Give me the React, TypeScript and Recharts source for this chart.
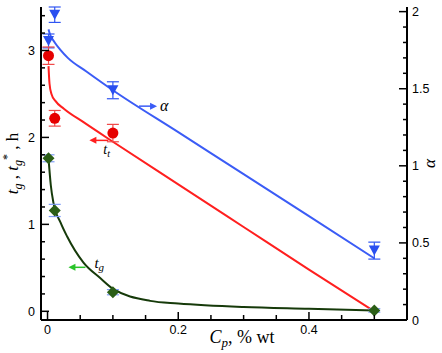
import React from "react";
import { ComposedChart, ErrorBar, Label, Line, ReferenceDot, Scatter, XAxis, YAxis } from "recharts";

// measured points
const alphaX = [0.0015, 0.011, 0.1, 0.5];
const alphaVals = [1.81, 1.98, 1.49, 0.45];
const alphaErr = [0.045, 0.05, 0.055, 0.055];

const ttX = [0.0015, 0.011, 0.1];
const ttVals = [2.94, 2.22, 2.05];
const ttErr = [0.1, 0.09, 0.1];

const tgX = [0.0015, 0.011, 0.1, 0.5];
const tgVals = [1.76, 1.16, 0.22, 0.01];
const tgErr = [0.04, 0.07, 0.03, 0.02];

// fitted curves
const alphaFitX = [0.0015, 0.004, 0.011, 0.02, 0.031, 0.06, 0.1, 0.2, 0.3, 0.4, 0.5];
const alphaFitVals = [1.885, 1.85, 1.8, 1.75, 1.7, 1.61, 1.49, 1.218, 0.946, 0.674, 0.4];

const ttFitX = [0.0015, 0.003, 0.006, 0.012, 0.025, 0.055, 0.1, 0.2, 0.3, 0.4, 0.5];
const ttFitVals = [2.82, 2.62, 2.5, 2.42, 2.33, 2.175, 1.95, 1.46, 0.97, 0.48, 0.0];

const tgFitX = [0.0015, 0.005, 0.009, 0.02, 0.03, 0.055, 0.081, 0.1, 0.157, 0.2, 0.3, 0.4, 0.5];
const tgFitVals = [1.76, 1.45, 1.25, 1.02, 0.86, 0.56, 0.38, 0.26, 0.12, 0.09, 0.05, 0.03, 0.01];

const xTicks = [0, 0.05, 0.1, 0.15, 0.2, 0.25, 0.3, 0.35, 0.4, 0.45, 0.5];
const xMajor = [0, 0.2, 0.4];
const leftTicks = [0, 0.2, 0.4, 0.6, 0.8, 1, 1.2, 1.4, 1.6, 1.8, 2, 2.2, 2.4, 2.6, 2.8, 3, 3.2, 3.4];
const leftMajor = [0, 1, 2, 3];
const rightTicks = [0, 0.1, 0.2, 0.3, 0.4, 0.5, 0.6, 0.7, 0.8, 0.9, 1, 1.1, 1.2, 1.3, 1.4, 1.5, 1.6, 1.7, 1.8, 1.9, 2];
const rightMajor = [0, 0.5, 1, 1.5, 2];

const BLUE = "#3b5cf6";
const RED = "#ff1f1f";
const GREEN_LINE = "#163a0a";
const GREEN_MARK = "#2b5e16";
const SANS = "'Liberation Sans', Arial, sans-serif";
const SERIF = "'Liberation Serif', 'Times New Roman', serif";

function toPoints(xs: number[], ys: number[], errs?: number[]) {
  return xs.map((x, i) => ({ x, y: ys[i], err: errs ? errs[i] : 0 }));
}

const isIn = (list: number[], v: number) => list.some((m) => Math.abs(m - v) < 1e-6);

function BottomTick(props: any) {
  const { x, y, payload } = props;
  const major = isIn(xMajor, payload.value);
  return (
    <g>
      <line x1={x} x2={x} y1={y} y2={y - (major ? 8 : 5)} stroke="#000" strokeWidth={1.5} />
      {major && (
        <text x={x} y={y + 14} textAnchor="middle" fontSize={12.5} fontFamily={SANS} fill="#000">
          {payload.value}
        </text>
      )}
    </g>
  );
}

function LeftTick(props: any) {
  const { x, y, payload } = props;
  const major = isIn(leftMajor, payload.value);
  return (
    <g>
      <line x1={x} x2={x + (major ? 8 : 4)} y1={y} y2={y} stroke="#000" strokeWidth={1.5} />
      {major && (
        <text x={x - 6} y={y + 4.5} textAnchor="end" fontSize={12.5} fontFamily={SANS} fill="#000">
          {payload.value}
        </text>
      )}
    </g>
  );
}

function RightTick(props: any) {
  const { x, y, payload } = props;
  const major = isIn(rightMajor, payload.value);
  return (
    <g>
      <line x1={x} x2={x - (major ? 8 : 4)} y1={y} y2={y} stroke="#000" strokeWidth={1.5} />
      {major && (
        <text x={x + 5} y={y + 4.5} textAnchor="start" fontSize={12.5} fontFamily={SANS} fill="#000">
          {payload.value}
        </text>
      )}
    </g>
  );
}

const TriangleDown = (p: any) => (
  <polygon
    points={`${p.cx - 5.5},${p.cy - 5} ${p.cx + 5.5},${p.cy - 5} ${p.cx},${p.cy + 5}`}
    fill="#2a4ff0"
  />
);
const Circle = (p: any) => <circle cx={p.cx} cy={p.cy} r={5.5} fill="#e60000" />;
const Diamond = (p: any) => (
  <polygon
    points={`${p.cx},${p.cy - 6} ${p.cx + 6},${p.cy} ${p.cx},${p.cy + 6} ${p.cx - 6},${p.cy}`}
    fill={GREEN_MARK}
  />
);

// annotation arrows, anchored at the arrow tip or tail in data space
const AlphaArrow = (p: any) => (
  <g>
    <line x1={p.cx} x2={p.cx + 12} y1={p.cy} y2={p.cy} stroke={BLUE} strokeWidth={1.5} />
    <polygon points={`${p.cx + 11},${p.cy - 3.5} ${p.cx + 18},${p.cy} ${p.cx + 11},${p.cy + 3.5}`} fill={BLUE} />
    <text x={p.cx + 21} y={p.cy + 5} fontSize={16} fontStyle="italic" fontFamily={SERIF} fill="#000">
      α
    </text>
  </g>
);
const TtArrow = (p: any) => (
  <g>
    <line x1={p.cx + 5} x2={p.cx + 19} y1={p.cy} y2={p.cy} stroke={RED} strokeWidth={1.5} />
    <polygon points={`${p.cx},${p.cy} ${p.cx + 7},${p.cy - 3.5} ${p.cx + 7},${p.cy + 3.5}`} fill={RED} />
    <text x={p.cx + 14} y={p.cy + 14} fontSize={14} fontStyle="italic" fontFamily={SERIF} fill="#000">
      t
      <tspan fontSize={10} dy={3}>
        t
      </tspan>
    </text>
  </g>
);
const TgArrow = (p: any) => (
  <g>
    <line x1={p.cx + 5} x2={p.cx + 17} y1={p.cy} y2={p.cy} stroke="#2ac42a" strokeWidth={1.5} />
    <polygon points={`${p.cx},${p.cy} ${p.cx + 7},${p.cy - 3.5} ${p.cx + 7},${p.cy + 3.5}`} fill="#2ac42a" />
    <text x={p.cx + 26} y={p.cy + 1} fontSize={15} fontStyle="italic" fontFamily={SERIF} fill="#000">
      t
      <tspan fontSize={11} dy={3}>
        g
      </tspan>
    </text>
  </g>
);

const LeftLabel = (props: any) => {
  const cx = 18;
  const cy = props.viewBox.y + props.viewBox.height / 2;
  return (
    <text
      x={cx}
      y={cy}
      transform={`rotate(-90, ${cx}, ${cy})`}
      textAnchor="middle"
      fontSize={17}
      fontFamily={SERIF}
      fill="#000"
    >
      <tspan fontStyle="italic">t</tspan>
      <tspan fontStyle="italic" fontSize={12} dy={4}>g</tspan>
      <tspan dy={-4}> , </tspan>
      <tspan fontStyle="italic">t</tspan>
      <tspan fontStyle="italic" fontSize={12} dy={4}>g</tspan>
      <tspan fontSize={12} dy={-11}>*</tspan>
      <tspan dy={7}> , h</tspan>
    </text>
  );
};

const RightLabel = (props: any) => {
  const cx = props.viewBox.x + 28;
  const cy = props.viewBox.y + props.viewBox.height / 2;
  return (
    <text
      x={cx}
      y={cy}
      transform={`rotate(-90, ${cx}, ${cy})`}
      textAnchor="middle"
      fontSize={17}
      fontStyle="italic"
      fontFamily={SERIF}
      fill="#000"
    >
      α
    </text>
  );
};

const BottomLabel = (props: any) => {
  const cx = props.viewBox.x + props.viewBox.width / 2 + 18;
  const y = props.viewBox.y + 23;
  return (
    <text x={cx} y={y} textAnchor="middle" fontSize={18} fontFamily={SERIF} fill="#000">
      <tspan fontStyle="italic">C</tspan>
      <tspan fontStyle="italic" fontSize={13} dy={4}>p</tspan>
      <tspan dy={-4}>, % wt</tspan>
    </text>
  );
};

export default function App() {
  const alphaPts = toPoints(alphaX, alphaVals, alphaErr);
  const ttPts = toPoints(ttX, ttVals, ttErr);
  const tgPts = toPoints(tgX, tgVals, tgErr);

  return (
    <div style={{ position: "absolute", left: 0, top: 0, background: "#fff" }}>
      <ComposedChart width={442} height={353} margin={{ top: 7, right: 0, bottom: 0, left: 0 }}>
        <XAxis
          dataKey="x"
          type="number"
          domain={[-0.01, 0.55]}
          ticks={xTicks}
          interval={0}
          tickSize={0}
          tickMargin={0}
          tickLine={false}
          tick={<BottomTick />}
          height={33}
          axisLine={{ stroke: "#000", strokeWidth: 2 }}
        >
          <Label content={<BottomLabel />} />
        </XAxis>
        <YAxis
          yAxisId="left"
          type="number"
          domain={[-0.1, 3.5]}
          ticks={leftTicks}
          interval={0}
          tickSize={0}
          tickMargin={0}
          tickLine={false}
          tick={<LeftTick />}
          width={41}
          axisLine={{ stroke: "#000", strokeWidth: 2 }}
        >
          <Label content={<LeftLabel />} />
        </YAxis>
        <YAxis
          yAxisId="right"
          orientation="right"
          type="number"
          domain={[0, 2]}
          ticks={rightTicks}
          interval={0}
          tickSize={0}
          tickMargin={0}
          tickLine={false}
          tick={<RightTick />}
          width={35}
          axisLine={{ stroke: "#000", strokeWidth: 2 }}
        >
          <Label content={<RightLabel />} />
        </YAxis>

        <Line
          yAxisId="right"
          data={toPoints(alphaFitX, alphaFitVals)}
          dataKey="y"
          type="monotone"
          stroke={BLUE}
          strokeWidth={2}
          dot={false}
          activeDot={false}
          isAnimationActive={false}
        />
        <Line
          yAxisId="left"
          data={toPoints(ttFitX, ttFitVals)}
          dataKey="y"
          type="monotone"
          stroke={RED}
          strokeWidth={2}
          dot={false}
          activeDot={false}
          isAnimationActive={false}
        />
        <Line
          yAxisId="left"
          data={toPoints(tgFitX, tgFitVals)}
          dataKey="y"
          type="monotone"
          stroke={GREEN_LINE}
          strokeWidth={2}
          dot={false}
          activeDot={false}
          isAnimationActive={false}
        />

        <Scatter yAxisId="right" data={alphaPts} dataKey="y" shape={TriangleDown} isAnimationActive={false}>
          <ErrorBar dataKey="err" direction="y" width={6} stroke="#2f55f2" strokeWidth={1.2} />
        </Scatter>
        <Scatter yAxisId="left" data={ttPts} dataKey="y" shape={Circle} isAnimationActive={false}>
          <ErrorBar dataKey="err" direction="y" width={6} stroke="#f04a4a" strokeWidth={1.2} />
        </Scatter>
        <Scatter yAxisId="left" data={tgPts} dataKey="y" shape={Diamond} isAnimationActive={false}>
          <ErrorBar dataKey="err" direction="y" width={6} stroke="#7f9cf5" strokeWidth={1.2} />
        </Scatter>

        <ReferenceDot yAxisId="right" x={0.14} y={1.387} shape={AlphaArrow} ifOverflow="visible" />
        <ReferenceDot yAxisId="left" x={0.064} y={1.966} shape={TtArrow} ifOverflow="visible" />
        <ReferenceDot yAxisId="left" x={0.032} y={0.506} shape={TgArrow} ifOverflow="visible" />
      </ComposedChart>
    </div>
  );
}
